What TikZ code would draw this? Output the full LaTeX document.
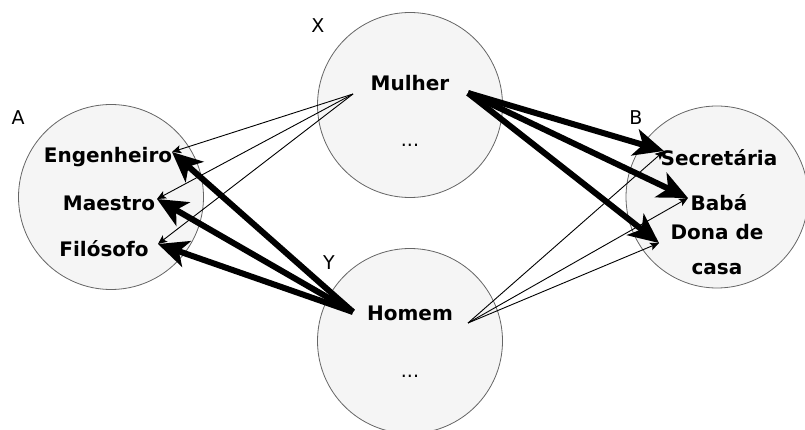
\documentclass[tikz,border=0pt]{standalone}
\usepackage{fontspec}
\setmainfont{DejaVu Sans}
\usetikzlibrary{arrows.meta}
\definecolor{setfill}{HTML}{F5F5F5}
\definecolor{setline}{HTML}{666666}
\tikzset{
  setcircle/.style={circle, draw=setline, fill=setfill, line width=0.8pt, minimum size=#1, inner sep=0pt},
  item/.style={font=\fontsize{20}{22}\selectfont\bfseries, inner sep=0pt},
  dots/.style={font=\fontsize{19}{20}\selectfont, inner sep=0pt},
  setname/.style={font=\fontsize{19}{20}\selectfont, inner sep=0pt},
  thin link/.style={line width=0.9pt, -{Stealth[length=9pt, width=8pt, inset=2pt]}},
  thick link/.style={line width=6pt, -{Stealth[length=30pt, width=27pt, inset=8pt]}},
}
\begin{document}
\begin{tikzpicture}[x=1pt, y=-1pt]
\useasboundingbox (0,0) rectangle (805,430);
\clip (0,0) rectangle (805,430);

% the four sets
\node[setcircle=185pt] (A) at (111,197) {};
\node[setcircle=185pt] (X) at (410,105) {};
\node[setcircle=185pt] (Y) at (410,341) {};
\node[setcircle=182pt] (B) at (717,197) {};

% set names
\node[setname] (lA) at (18,118) {A};
\node[setname] (lX) at (318,26) {X};
\node[setname] (lY) at (329,263) {Y};
\node[setname] (lB) at (636,118) {B};

% elements
\node[item] (eng) at (108,157) {Engenheiro};
\node[item] (mae) at (109,203) {Maestro};
\node[item] (fil) at (104,249) {Filósofo};
\node[item] (mul) at (410,83) {Mulher};
\node[dots] (dx) at (410,145) {...};
\node[item] (hom) at (410,313) {Homem};
\node[dots] (dy) at (410,376) {...};
\node[item] (sec) at (719,158) {Secretária};
\node[item] (bab) at (719,203) {Babá};
\node[item] (don) at (717,232) {Dona de};
\node[item] (cas) at (717,269) {casa};

% link end points
\coordinate (mulL) at (353,94);
\coordinate (mulR) at (468,93);
\coordinate (homL) at (353,312);
\coordinate (homR) at (468,323);
\coordinate (engT) at (172,152);
\coordinate (maeT) at (157,199);
\coordinate (filT) at (158,244);
\coordinate (secT) at (664,151);
\coordinate (babT) at (688,198);
\coordinate (donT) at (659,243);

% thin links
\draw[thin link] (mulL) -- (engT);
\draw[thin link] (mulL) -- (maeT);
\draw[thin link] (mulL) -- (filT);
\draw[thin link] (homR) -- (secT);
\draw[thin link] (homR) -- (babT);
\draw[thin link] (homR) -- (donT);

% thick links
\draw[thick link] (homL) -- (engT);
\draw[thick link] (homL) -- (maeT);
\draw[thick link] (homL) -- (filT);
\draw[thick link] (mulR) -- (secT);
\draw[thick link] (mulR) -- (babT);
\draw[thick link] (mulR) -- (donT);
\end{tikzpicture}
\end{document}
